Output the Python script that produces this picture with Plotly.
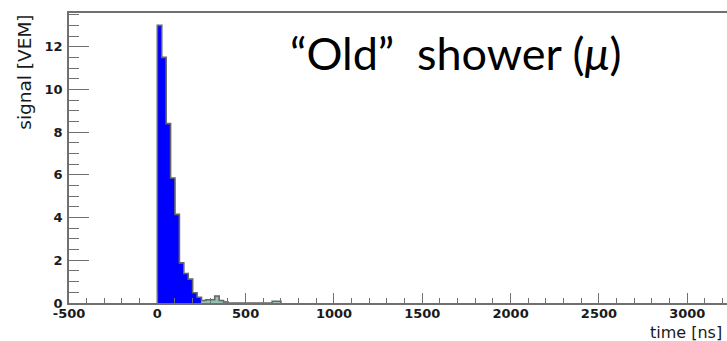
import plotly.graph_objects as go

# Histogram of the station trace: 25 ns bins starting at t = 0
bin_width_ns = 25
bin_start_ns = [i * bin_width_ns for i in range(28)]
signal_vem = [13.0, 11.5, 8.4, 5.85, 4.15, 1.88, 1.38, 1.12, 0.48, 0.27,
              0.12, 0.15, 0.15, 0.33, 0.12, 0.05, 0.0, 0.0, 0.0, 0.0,
              0.0, 0.0, 0.0, 0.0, 0.0, 0.0, 0.08, 0.08]
# first bins belong to the muonic part (blue), later ones are the tail (teal)
n_muon_bins = 10

x_ticks = [-500, 0, 500, 1000, 1500, 2000, 2500, 3000]
y_ticks = [0, 2, 4, 6, 8, 10, 12]

BLUE = "#0000ff"
TEAL = "#93c2b4"
EDGE = "#666666"
AXIS = "#707070"

centers = [s + bin_width_ns / 2 for s in bin_start_ns]
colors = [BLUE if i < n_muon_bins else TEAL for i in range(len(signal_vem))]

fig = go.Figure()
fig.add_trace(go.Bar(
    x=centers, y=signal_vem, width=[bin_width_ns] * len(centers),
    marker=dict(color=colors, line=dict(width=0)),
    showlegend=False, hoverinfo="skip",
))

# outer step outline of the histogram
edges = bin_start_ns + [bin_start_ns[-1] + bin_width_ns]
step_x = [edges[0]] + edges
step_y = [0] + signal_vem + [0]
fig.add_trace(go.Scatter(
    x=step_x, y=step_y, mode="lines", line=dict(color=EDGE, width=1.6, shape="hv"),
    showlegend=False, hoverinfo="skip",
))

tick_font = dict(family="DejaVu Sans, sans-serif", size=13, color="#1a1a1a", weight="bold")
title_font = dict(family="DejaVu Sans, sans-serif", size=16, color="#1a1a1a")

fig.update_layout(
    width=727, height=341,
    margin=dict(l=69, r=0, t=13, b=38),
    paper_bgcolor="white", plot_bgcolor="white",
    bargap=0,
    xaxis=dict(
        range=[-500, 3225], tickvals=x_ticks, ticktext=[str(v) for v in x_ticks],
        ticks="inside", ticklen=10, tickwidth=1, tickcolor=AXIS,
        minor=dict(ticks="inside", ticklen=5, dtick=100, tick0=0, tickcolor=AXIS, tickwidth=1),
        showline=True, linecolor=AXIS, linewidth=1.5, mirror=True,
        showgrid=False, zeroline=False, tickfont=tick_font, ticklabelstandoff=-2,
    ),
    yaxis=dict(
        range=[0, 13.58], tickvals=y_ticks, ticktext=[str(v) for v in y_ticks],
        ticks="inside", ticklen=20, tickwidth=1, tickcolor=AXIS,
        minor=dict(ticks="inside", ticklen=10, dtick=0.5, tick0=0, tickcolor=AXIS, tickwidth=1),
        showline=True, linecolor=AXIS, linewidth=1.5, mirror=False,
        showgrid=False, zeroline=False, tickfont=tick_font, ticklabelstandoff=2,
    ),
    annotations=[
        dict(text="signal [VEM]", textangle=-90, xref="paper", yref="paper",
             x=-0.068, y=1.0, xanchor="center", yanchor="top", showarrow=False,
             font=dict(family="DejaVu Sans, sans-serif", size=18.5, color="#1a1a1a")),
        dict(text="time [ns]", xref="paper", yref="paper",
             x=0.995, y=-0.1, xanchor="right", yanchor="middle", showarrow=False,
             font=title_font),
        dict(text="“Old”  shower (<i>μ</i>)", xref="paper", yref="paper",
             x=0.333, y=0.962, xanchor="left", yanchor="top", showarrow=False,
             font=dict(family="Lato, sans-serif", size=45, color="black")),
    ],
)

fig.write_html("out.html")
